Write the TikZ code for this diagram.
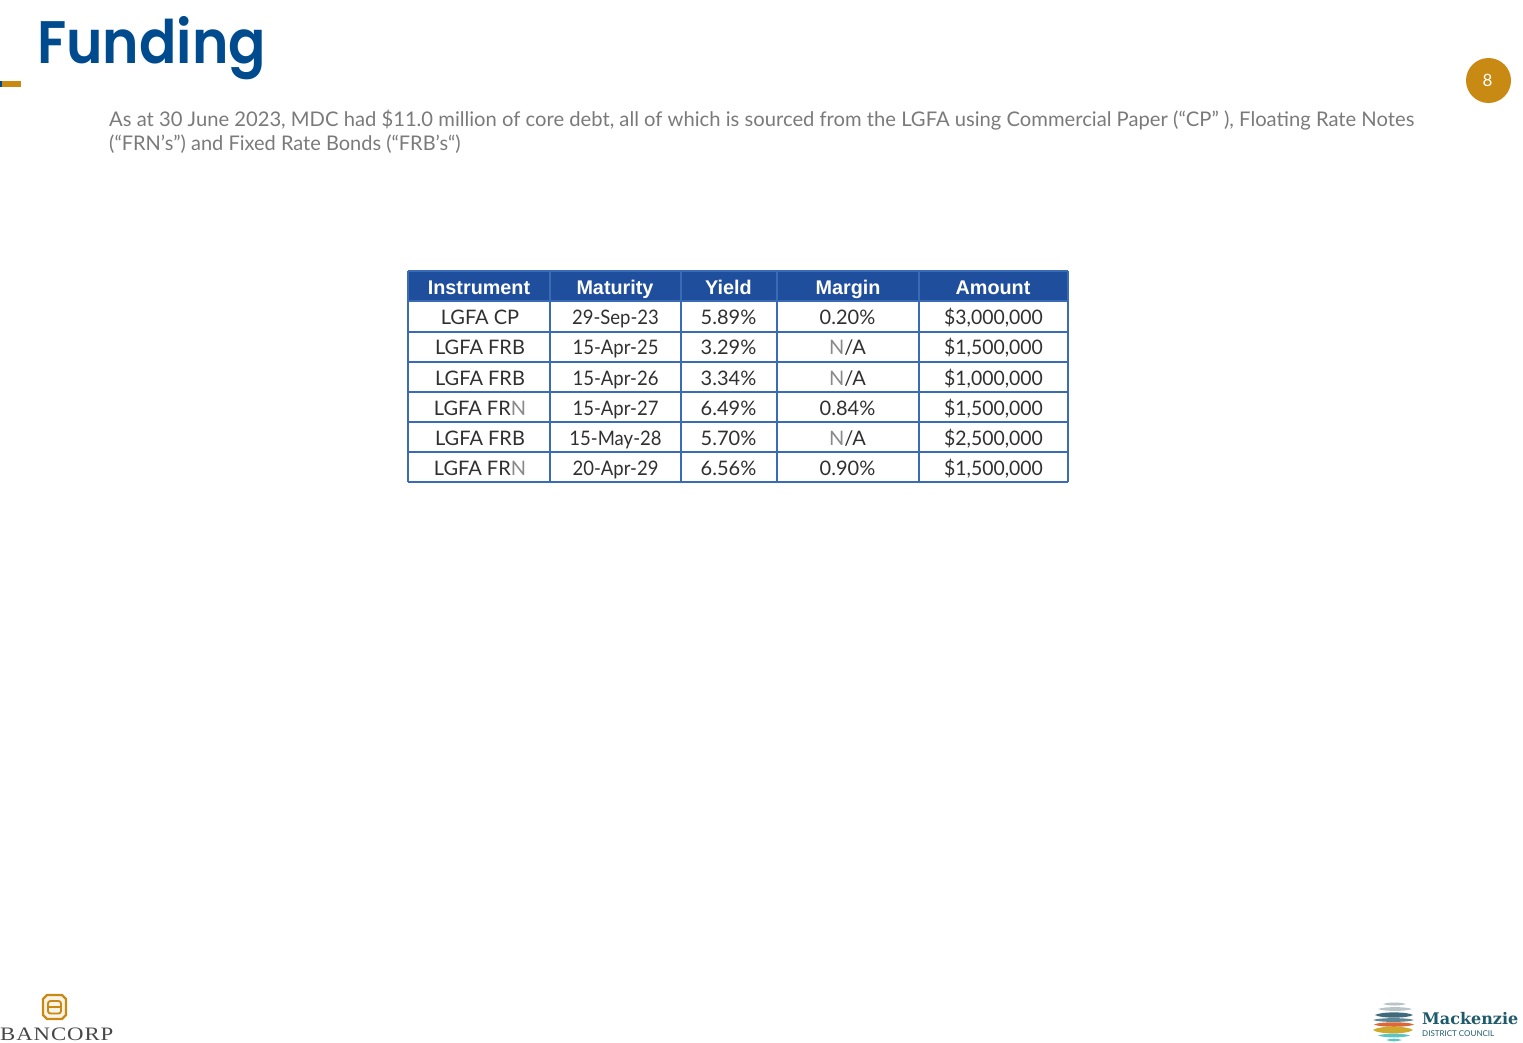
\documentclass[tikz,border=0pt]{standalone}
\usepackage{fontspec}
\setmainfont{Lato}
\newfontfamily\hdfont{Liberation Sans}
\newfontfamily\titlefont{Poppins}[UprightFont=* SemiBold]
\newfontfamily\bancfont[LetterSpace=4]{Liberation Serif}
\definecolor{titleblue}{HTML}{004B8D}
\definecolor{gold}{HTML}{C98A14}
\definecolor{hdblue}{HTML}{1F4E9C}
\definecolor{gridblue}{HTML}{3A6BB5}
\definecolor{bodygrey}{HTML}{7A7A7A}
\definecolor{cellink}{HTML}{303030}
\definecolor{thinink}{HTML}{8A8A8A}
\definecolor{teal}{HTML}{1F5A6B}
\definecolor{mgrey}{HTML}{B9C4C9}
\definecolor{mslate}{HTML}{5F8795}
\definecolor{mdark}{HTML}{3F6B7C}
\definecolor{morange}{HTML}{D9683A}
\definecolor{myellow}{HTML}{CFA92B}
\definecolor{mturq}{HTML}{5CC4C2}
\tikzset{
 x=1pt,y=-1pt,
 cellt/.style={font=\fontsize{20}{24}\selectfont,text=cellink,anchor=base,inner sep=0pt},
 datet/.style={cellt,xscale=0.925},
 amtt/.style={cellt,xscale=0.97},
 headt/.style={font=\hdfont\bfseries\fontsize{19.8}{24}\selectfont,text=white,anchor=base,inner sep=0pt},
 bodyt/.style={font=\fontsize{20.2}{24}\selectfont,text=bodygrey,anchor=base west,inner sep=0pt},
 gridl/.style={draw=gridblue,line width=1.8pt}
}
\newcommand{\thinN}{\textcolor{thinink}{N}}
\newcommand{\lens}[5]{\fill[#5] (#1,#3) .. controls (#1+6,#3-#4) and (#2-6,#3-#4) .. (#2,#3) .. controls (#2-6,#3+#4) and (#1+6,#3+#4) .. cycle;}
\begin{document}
\begin{tikzpicture}
\useasboundingbox (0,0) rectangle (1523,1042);
\node[font=\titlefont\fontsize{60}{70}\selectfont,text=titleblue,anchor=base west,inner sep=0pt,xscale=0.92] (title) at (37,63.5) {Funding};
\fill[gold] (0,81) rectangle (21,87);
\fill[titleblue] (0,81) rectangle (2,87);
\node[bodyt] (l1) at (109,126) {As at 30 June 2023, MDC had \$11.0 million of core debt, all of which is sourced from the LGFA using Commercial Paper (“CP” ), Floating Rate Notes};
\node[bodyt,xscale=0.99] (l2) at (109,150) {(“FRN’s”) and Fixed Rate Bonds (“FRB’s“)};
\node[circle,fill=gold,minimum size=45pt,inner sep=0pt,text=white,font=\fontsize{17}{20}\selectfont] (pg) at (1488.5,80.5) {\hspace{-2pt}8};
% table
\fill[hdblue] (408,271) rectangle (1068,301);
\foreach \y in {301,332,362,392,422,452,482} \draw[gridl] (408,\y) -- (1068,\y);
\foreach \x in {408,550,681,777,919,1068} \draw[gridl] (\x,271) -- (\x,482);
\draw[gridl] (408,271) -- (1068,271);
\node[headt] (h1) at (479,294.5) {Instrument};
\node[headt] (h2) at (615,294.5) {Maturity};
\node[headt] (h3) at (728.5,294.5) {Yield};
\node[headt] (h4) at (848,294.5) {Margin};
\node[headt] (h5) at (993,294.5) {Amount};
\newcommand{\tabrow}[7]{%
 \node[cellt] (a#1) at (480,#2) {#3};
 \node[datet] (b#1) at (615.5,#2) {#4};
 \node[cellt] (c#1) at (728.5,#2) {#5};
 \node[cellt] (d#1) at (847.5,#2) {#6};
 \node[amtt] (e#1) at (993.5,#2) {#7};}
\tabrow{1}{324}{LGFA CP}{29-Sep-23}{5.89\%}{0.20\%}{\$3,000,000}
\tabrow{2}{354}{LGFA FRB}{15-Apr-25}{3.29\%}{\thinN/A}{\$1,500,000}
\tabrow{3}{385}{LGFA FRB}{15-Apr-26}{3.34\%}{\thinN/A}{\$1,000,000}
\tabrow{4}{415}{LGFA FR\thinN}{15-Apr-27}{6.49\%}{0.84\%}{\$1,500,000}
\tabrow{5}{445}{LGFA FRB}{15-May-28}{5.70\%}{\thinN/A}{\$2,500,000}
\tabrow{6}{475}{LGFA FR\thinN}{20-Apr-29}{6.56\%}{0.90\%}{\$1,500,000}
% Bancorp logo
\draw[gold,line width=2.4pt,fill=gold!10] (47,995) -- (62,995) -- (66,999) -- (66,1015) -- (62,1019) -- (47,1019) -- (43,1015) -- (43,999) -- cycle;
\draw[gold,line width=1.9pt,rounded corners=2.5pt] (48,1001) rectangle (61,1013.5);
\draw[gold,line width=1.6pt] (48,1007) -- (61,1007);
\node[font=\bancfont\fontsize{19}{22}\selectfont,text=black!72,anchor=base west,inner sep=0pt,xscale=1.2] (banc) at (0,1040.5) {BANCORP};
% Mackenzie logo
\lens{1383}{1406}{1004}{2}{mgrey}
\lens{1378}{1412}{1009}{2.5}{mgrey}
\lens{1375}{1413}{1015}{3.5}{mdark}
\lens{1373}{1414}{1020}{2.5}{mslate}
\lens{1374}{1414}{1024.5}{3}{morange}
\lens{1373}{1413}{1030}{4.5}{myellow}
\lens{1378}{1410}{1035.5}{2.5}{mturq}
\lens{1386}{1402}{1040}{1.8}{mturq}
\node[font=\fontspec{DejaVu Serif}\bfseries\fontsize{16}{20}\selectfont,text=teal,anchor=base west,inner sep=0pt] (mack) at (1422,1024) {Mackenzie};
\node[font=\fontsize{8}{9}\selectfont,text=teal,anchor=base west,inner sep=0pt] (dist) at (1422,1036) {DISTRICT COUNCIL};
\end{tikzpicture}
\end{document}
